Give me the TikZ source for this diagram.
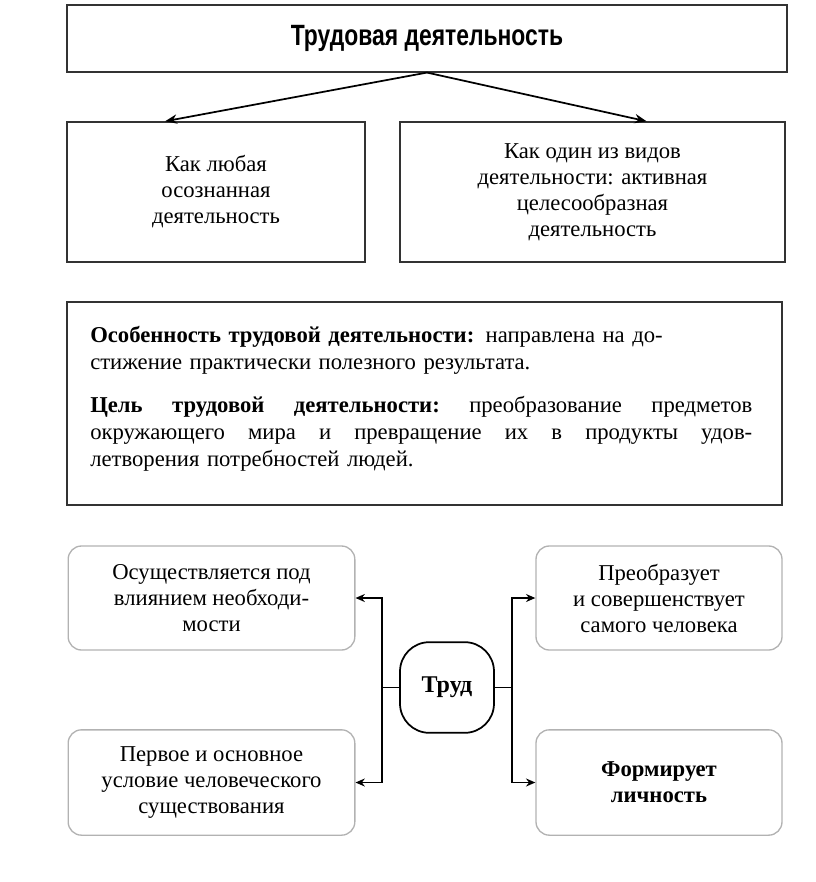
\documentclass[tikz,border=0pt]{standalone}
\usepackage{fontspec}
\setmainfont{Liberation Serif}
\newfontfamily\titlefont[FakeStretch=0.78]{Liberation Sans}
\usepackage{tikz}
\usetikzlibrary{arrows.meta,
                calc,
                positioning}
\tikzset{
    sqbox/.style={draw=black!80, line width=1.1pt, fill=white, align=center,
                  font=\fontsize{17}{19.5}\selectfont},
    rbox/.style={draw=black!30, line width=1pt, rounded corners=10pt, align=center,
                 font=\fontsize{17}{19.5}\selectfont},
    arr/.style={-{Stealth[length=9pt,width=7pt]}, line width=1.3pt},
    sarr/.style={-{Stealth[length=7pt,width=6pt]}, line width=1.2pt}
}
\newcommand{\fullline}[1]{\leavevmode\hbox to 496.5pt{#1}}
\newcommand{\gap}{\hspace{0pt plus 1fil}\ }
\begin{document}
\begin{tikzpicture}[x=0.75pt,y=-0.75pt]
    \useasboundingbox (0,0) rectangle (816,882);

    \node[sqbox, minimum width=540pt, minimum height=50pt] (title) at (427,38.5)
        {\titlefont\bfseries\fontsize{22}{24}\selectfont Трудовая деятельность};
    \node[sqbox, minimum width=223.5pt, minimum height=105pt] (any) at (216,192)
        {Как любая\\осознанная\\деятельность};
    \node[sqbox, minimum width=288.75pt, minimum height=105pt] (kind) at (592.5,192)
        {Как один из видов\\деятельности: активная\\целесообразная\\деятельность};

    \draw[arr] (title.south) -- ($(any.north west)!0.33!(any.north east)$);
    \draw[arr] (title.south) -- ($(kind.north west)!0.64!(kind.north east)$);

    % feature and goal
    \node[sqbox, minimum width=536pt, minimum height=152pt] (about) at (424.5,403.5) {};
    \node[text width=496.5pt, align=left, inner sep=0pt, anchor=north west,
          font=\fontsize{17}{20.25}\selectfont] (abouttxt) at (90,326)
        {\textbf{Особенность трудовой деятельности:} направлена на до-\\
         стижение практически полезного результата.\\[12pt]
         \fullline{\textbf{Цель\gap трудовой\gap деятельности:}\gap преобразование\gap предметов}\\
         \fullline{окружающего\gap мира\gap и\gap превращение\gap их\gap в\gap продукты\gap удов-}\\
         летворения потребностей людей.};

    % labour
    \node[draw, line width=1.3pt, rounded corners=22pt, minimum width=70.5pt,
          minimum height=68pt, font=\bfseries\fontsize{18}{20}\selectfont] (trud) at (447,687.5) {Труд};
    \node[rbox, minimum width=215pt, minimum height=78pt] (need) at (211.5,598)
        {Осуществляется под\\влиянием необходи-\\мости};
    \node[rbox, minimum width=215pt, minimum height=79pt] (cond) at (211.5,782.5)
        {Первое и основное\\условие человеческого\\существования};
    \node[rbox, minimum width=184.5pt, minimum height=78pt] (self) at (659,598)
        {Преобразует\\и совершенствует\\самого человека};
    \node[rbox, minimum width=184.5pt, minimum height=79pt, font=\bfseries\fontsize{17}{19.5}\selectfont] (pers) at (659,782.5)
        {Формирует\\личность};

    \draw[sarr] (trud.west) -- ++(-17,0) |- (need.east);
    \draw[sarr] (trud.west) -- ++(-17,0) |- (cond.east);
    \draw[sarr] (trud.east) -- ++(17,0) |- (self.west);
    \draw[sarr] (trud.east) -- ++(17,0) |- (pers.west);

\end{tikzpicture}
\end{document}
